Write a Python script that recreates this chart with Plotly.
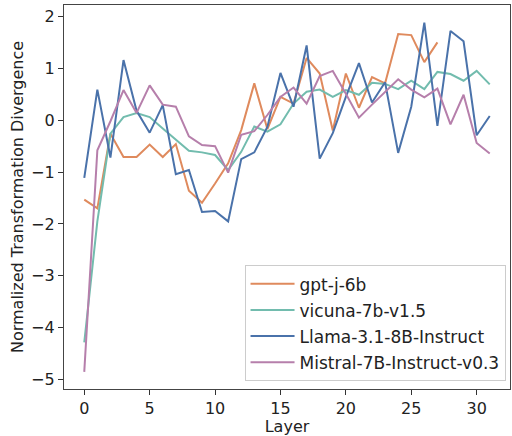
import plotly.graph_objects as go

layers = list(range(32))

gptj = [-1.53, -1.70, -0.26, -0.71, -0.71, -0.47, -0.71, -0.46, -1.36, -1.59,
        -1.22, -0.83, -0.19, 0.71, -0.17, 0.45, 0.32, 1.20, 0.90, -0.20,
        0.90, 0.24, 0.83, 0.71, 1.66, 1.64, 1.12, 1.50]
vicuna = [-4.28, -1.95, -0.26, 0.06, 0.14, 0.06, -0.16, -0.37, -0.59, -0.62,
          -0.67, -0.96, -0.61, -0.12, -0.22, -0.08, 0.32, 0.55, 0.59, 0.45,
          0.58, 0.49, 0.72, 0.70, 0.60, 0.76, 0.60, 0.93, 0.89, 0.76, 0.95, 0.69]
llama = [-1.11, 0.59, -0.72, 1.16, 0.18, -0.24, 0.29, -1.04, -0.96, -1.77,
         -1.75, -1.95, -0.75, -0.62, -0.13, 0.91, 0.26, 1.44, -0.74, -0.25,
         0.45, 1.10, 0.34, 0.73, -0.63, 0.26, 1.88, -0.11, 1.72, 1.52, -0.29, 0.08]
mistral = [-4.85, -0.58, -0.02, 0.58, 0.14, 0.67, 0.30, 0.26, -0.31, -0.48,
           -0.50, -1.01, -0.28, -0.21, 0.10, 0.45, 0.63, 0.32, 0.85, 0.95,
           0.51, 0.05, 0.30, 0.55, 0.79, 0.59, 0.44, 0.61, -0.08, 0.49, -0.44, -0.64]

names = ["gpt-j-6b", "vicuna-7b-v1.5", "Llama-3.1-8B-Instruct", "Mistral-7B-Instruct-v0.3"]
series = [gptj, vicuna, llama, mistral]
colors = ["#df8a5d", "#72bcae", "#4a72aa", "#b67fab"]

fig = go.Figure()
for name, vals, col in zip(names, series, colors):
    fig.add_trace(go.Scatter(x=layers[:len(vals)], y=vals, mode="lines", name=name,
                             legendgroup=name,
                             line=dict(color=col, width=2)))

axis_common = dict(showgrid=False, zeroline=False, showline=True, linecolor="#444",
                   linewidth=1.2, mirror=True, ticks="outside", ticklen=5,
                   tickcolor="#333", tickfont=dict(size=16, color="#222"),
                   automargin=False)

fig.update_layout(
    width=512, height=436,
    paper_bgcolor="white", plot_bgcolor="white",
    font=dict(family="DejaVu Sans", color="#222"),
    margin=dict(l=64, r=2, t=5, b=47),
    xaxis=dict(range=[-1.55, 32.55], tickvals=[0, 5, 10, 15, 20, 25, 30],
               title=dict(text="Layer", font=dict(size=16), standoff=4), **axis_common),
    yaxis=dict(range=[-5.18, 2.22], tickvals=[-5, -4, -3, -2, -1, 0, 1, 2],
               title=dict(text="Normalized Transformation Divergence", font=dict(size=16), standoff=3),
               **axis_common),
    legend=dict(x=0.99, y=0.02, xanchor="right", yanchor="bottom",
                bgcolor="rgba(255,255,255,0.8)", bordercolor="#ccc", borderwidth=1,
                font=dict(size=17), tracegroupgap=1, itemwidth=44),
    showlegend=True,
)

fig.write_html("out.html", config={"displayModeBar": False},
               post_script="document.body.style.margin='0';document.body.style.overflow='hidden';")
